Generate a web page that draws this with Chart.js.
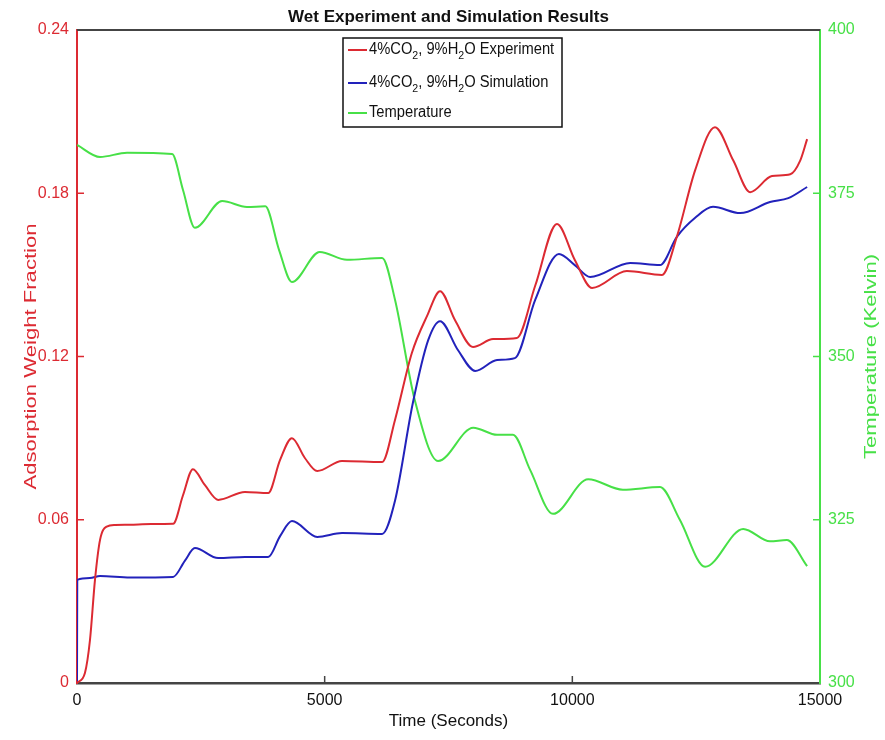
<!DOCTYPE html>
<html>
<head>
<meta charset="utf-8">
<script src="https://cdn.jsdelivr.net/npm/chart.js@4.4.1/dist/chart.umd.min.js"></script>
<style>
  body { margin: 0; background: #fff; }
</style>
</head>
<body>
<canvas id="wetChart" width="885" height="740"></canvas>
<script>
// experiment (red, left axis)
const expTime = [0, 160, 262, 363, 465, 600, 770, 1070, 1500, 1940, 2140, 2340, 2580, 2850, 3390, 3860, 4100, 4340, 4600, 4850, 5350, 6160, 6420, 6760, 7070, 7330, 7630, 7995, 8400, 8880, 9250, 9690, 10050, 10400, 11100, 11810, 12110, 12480, 12880, 13250, 13590, 14030, 14400, 14600, 14740];
const expValues = [0, 0.0037, 0.0158, 0.0379, 0.0526, 0.0575, 0.0581, 0.0582, 0.0584, 0.0585, 0.069, 0.0786, 0.0728, 0.0673, 0.0702, 0.0698, 0.082, 0.090, 0.0827, 0.0779, 0.0816, 0.0812, 0.0967, 0.1213, 0.135, 0.144, 0.1334, 0.1235, 0.1264, 0.1268, 0.146, 0.1687, 0.1555, 0.1452, 0.1514, 0.150, 0.164, 0.1885, 0.2043, 0.192, 0.1804, 0.1863, 0.187, 0.192, 0.1999];

// simulation (blue, left axis)
const simTime = [0, 5, 260, 465, 1070, 1940, 2180, 2380, 2850, 3390, 3860, 4100, 4340, 4850, 5350, 6160, 6420, 6780, 7090, 7330, 7690, 8040, 8480, 8840, 9250, 9730, 10050, 10360, 11170, 11770, 12110, 12480, 12840, 13390, 13990, 14360, 14740];
const simValues = [0, 0.0379, 0.0386, 0.0393, 0.0388, 0.039, 0.045, 0.0496, 0.0459, 0.0463, 0.0463, 0.054, 0.0595, 0.0537, 0.0551, 0.0548, 0.067, 0.1029, 0.126, 0.133, 0.1224, 0.1147, 0.1187, 0.1194, 0.1408, 0.1577, 0.1536, 0.1492, 0.1544, 0.1536, 0.164, 0.171, 0.175, 0.1727, 0.1768, 0.1782, 0.1823];

// temperature (green, right axis)
const tempTime = [0, 465, 1010, 1920, 2140, 2380, 2930, 3430, 3800, 4080, 4340, 4900, 5450, 6160, 6420, 6820, 7290, 8000, 8480, 8800, 9150, 9610, 10320, 11020, 11770, 12170, 12680, 13450, 13990, 14330, 14740];
const tempValues = [382.4, 380.55, 381.2, 381.0, 375.5, 369.7, 373.8, 372.9, 373.0, 366.3, 361.4, 366.0, 364.8, 365.1, 358.7, 343.3, 334.0, 339.1, 338.0, 338.0, 332.6, 325.9, 331.2, 329.6, 330.0, 325.0, 317.8, 323.6, 321.7, 321.9, 317.9];

const xTicks = [0, 5000, 10000, 15000];
const leftTicks = [0, 0.06, 0.12, 0.18, 0.24];
const rightTicks = [300, 325, 350, 375, 400];

const RED = '#dc2a32';
const BLUE = '#2222bb';
const GREEN = '#47e047';
const FONT = "'Liberation Sans', Arial, sans-serif";

function toPoints(xs, ys) {
    return xs.map((x, i) => ({ x: x, y: ys[i] }));
}

// draws text with subscript pieces: odd indexes are subscripts
function drawRich(ctx, parts, x, y, size) {
    parts.forEach((p, i) => {
        if (i % 2 === 1) {
            ctx.font = `${size * 0.72}px ${FONT}`;
            ctx.fillText(p, x, y + size * 0.35);
        } else {
            ctx.font = `${size}px ${FONT}`;
            ctx.fillText(p, x, y);
        }
        x += ctx.measureText(p).width;
    });
}

// vertical axis title, stretched along its length like the original figure
function drawVertical(ctx, text, x, y, color) {
    ctx.save();
    ctx.translate(x, y);
    ctx.rotate(-Math.PI / 2);
    ctx.scale(1.3, 1);
    ctx.fillStyle = color;
    ctx.fillText(text, 0, 0);
    ctx.restore();
}

const overlay = {
    id: 'overlay',
    afterDraw(chart) {
        const { ctx, chartArea: a, scales } = chart;
        ctx.save();

        // top border of the box
        ctx.lineWidth = 2;
        ctx.strokeStyle = '#444';
        ctx.beginPath();
        ctx.moveTo(a.left, a.top);
        ctx.lineTo(a.right, a.top);
        ctx.stroke();

        // inward tick marks
        ctx.lineWidth = 1.5;
        xTicks.slice(1, -1).forEach(v => {
            const px = scales.x.getPixelForValue(v);
            ctx.beginPath();
            ctx.moveTo(px, a.bottom);
            ctx.lineTo(px, a.bottom - 7);
            ctx.stroke();
        });
        ctx.strokeStyle = RED;
        leftTicks.slice(1, -1).forEach(v => {
            const py = scales.y.getPixelForValue(v);
            ctx.beginPath();
            ctx.moveTo(a.left, py);
            ctx.lineTo(a.left + 7, py);
            ctx.stroke();
        });
        ctx.strokeStyle = GREEN;
        rightTicks.slice(1, -1).forEach(v => {
            const py = scales.y1.getPixelForValue(v);
            ctx.beginPath();
            ctx.moveTo(a.right, py);
            ctx.lineTo(a.right - 7, py);
            ctx.stroke();
        });

        // title
        ctx.fillStyle = '#111';
        ctx.textAlign = 'center';
        ctx.textBaseline = 'middle';
        ctx.font = `bold 17px ${FONT}`;
        ctx.fillText('Wet Experiment and Simulation Results', (a.left + a.right) / 2, 17);

        // axis titles
        ctx.font = `17px ${FONT}`;
        ctx.fillText('Time (Seconds)', (a.left + a.right) / 2, 721);
        const midY = (a.top + a.bottom) / 2;
        drawVertical(ctx, 'Adsorption Weight Fraction', 31, midY, RED);
        drawVertical(ctx, 'Temperature (Kelvin)', 871, midY, GREEN);

        // legend
        const bx = 343, by = 38, bw = 219, bh = 89;
        ctx.fillStyle = '#fff';
        ctx.fillRect(bx, by, bw, bh);
        ctx.strokeStyle = '#111';
        ctx.lineWidth = 1.5;
        ctx.strokeRect(bx, by, bw, bh);
        const rows = [
            { color: RED, y: 50, parts: ['4%CO', '2', ', 9%H', '2', 'O Experiment'] },
            { color: BLUE, y: 83, parts: ['4%CO', '2', ', 9%H', '2', 'O Simulation'] },
            { color: GREEN, y: 113, parts: ['Temperature'] }
        ];
        ctx.textAlign = 'left';
        rows.forEach(r => {
            ctx.strokeStyle = r.color;
            ctx.lineWidth = 2;
            ctx.beginPath();
            ctx.moveTo(348, r.y);
            ctx.lineTo(367, r.y);
            ctx.stroke();
            ctx.save();
            ctx.translate(369, r.y);
            ctx.scale(0.92, 1);
            ctx.fillStyle = '#111';
            drawRich(ctx, r.parts, 0, 0, 16);
            ctx.restore();
        });

        ctx.restore();
    }
};

new Chart(document.getElementById('wetChart'), {
    type: 'line',
    data: {
        datasets: [{
            label: 'Experiment',
            data: toPoints(expTime, expValues),
            borderColor: RED,
            yAxisID: 'y'
        }, {
            label: 'Simulation',
            data: toPoints(simTime, simValues),
            borderColor: BLUE,
            yAxisID: 'y'
        }, {
            label: 'Temperature',
            data: toPoints(tempTime, tempValues),
            borderColor: GREEN,
            yAxisID: 'y1'
        }]
    },
    options: {
        responsive: false,
        animation: false,
        layout: { padding: { top: 30 } },
        elements: {
            point: { radius: 0 },
            line: { borderWidth: 2, cubicInterpolationMode: 'monotone', fill: false }
        },
        plugins: {
            legend: { display: false },
            title: { display: false },
            tooltip: { enabled: false }
        },
        scales: {
            x: {
                type: 'linear',
                min: 0,
                max: 15000,
                afterFit: s => { s.height = 57; },
                afterBuildTicks: s => { s.ticks = xTicks.map(v => ({ value: v })); },
                grid: { display: false, drawTicks: false },
                border: { color: '#444', width: 2.5 },
                ticks: {
                    color: '#111',
                    padding: 8,
                    font: { family: FONT, size: 16 },
                    callback: v => String(v)
                }
            },
            y: {
                position: 'left',
                min: 0,
                max: 0.24,
                afterFit: s => { s.width = 77; },
                afterBuildTicks: s => { s.ticks = leftTicks.map(v => ({ value: v })); },
                grid: { display: false, drawTicks: false },
                border: { color: RED, width: 2 },
                ticks: {
                    color: RED,
                    padding: 8,
                    font: { family: FONT, size: 16 },
                    callback: v => String(+v.toFixed(2))
                }
            },
            y1: {
                position: 'right',
                min: 300,
                max: 400,
                afterFit: s => { s.width = 65; },
                afterBuildTicks: s => { s.ticks = rightTicks.map(v => ({ value: v })); },
                grid: { display: false, drawTicks: false },
                border: { color: GREEN, width: 2 },
                ticks: { color: GREEN, padding: 8, font: { family: FONT, size: 16 } }
            }
        }
    },
    plugins: [overlay]
});
</script>
</body>
</html>
